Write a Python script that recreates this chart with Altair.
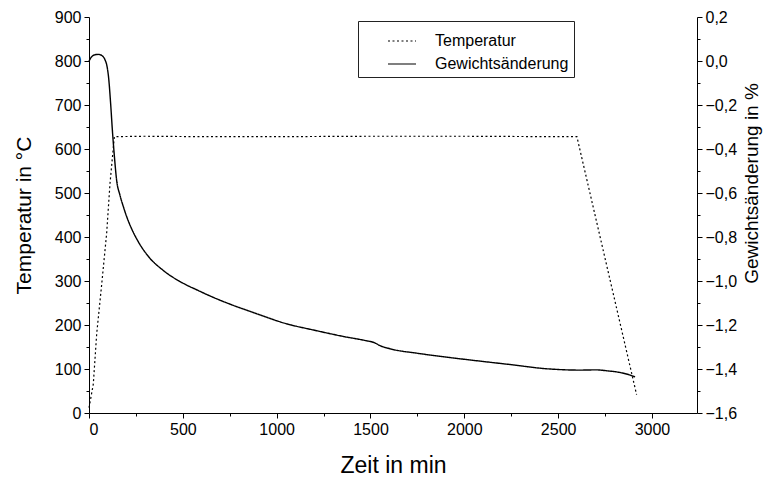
import altair as alt
import pandas as pd

# Temperature (left axis, °C)
temp_time = [0, 10, 23, 41, 68, 94, 112, 135, 300, 600, 1000, 1500, 2000, 2500, 2600, 2918]
temp_vals = [12, 35, 66, 180, 294, 408, 522, 628, 629, 628, 628, 629, 629, 628, 628, 42]

# Weight change (right axis, %)
w_time = [0, 15, 30, 50, 70, 85, 95, 105, 115, 125, 135, 147, 165, 183, 201, 230, 263, 320,
          396, 501, 574, 645, 760, 858, 911, 1035, 1213, 1355, 1480, 1520, 1551, 1604, 1746,
          1924, 2226, 2456, 2616, 2705, 2758, 2830, 2870, 2910]
w_vals = [0.000, 0.020, 0.028, 0.030, 0.024, 0.006, -0.020, -0.080, -0.190, -0.320, -0.430,
          -0.540, -0.610, -0.662, -0.708, -0.768, -0.822, -0.892, -0.952, -1.010, -1.040,
          -1.068, -1.108, -1.138, -1.154, -1.190, -1.226, -1.252, -1.272, -1.280, -1.294,
          -1.308, -1.328, -1.348, -1.378, -1.400, -1.405, -1.404, -1.408, -1.416, -1.424, -1.436]

series_names = ["Temperatur", "Gewichtsänderung"]

df_t = pd.DataFrame({"t": temp_time, "v": temp_vals, "series": series_names[0]})
df_w = pd.DataFrame({"t": w_time, "v": w_vals, "series": series_names[1]})

FONT = "Liberation Sans"

x_ticks = list(range(0, 3241, 250))
left_ticks = list(range(0, 901, 50))
right_ticks = [round(-1.6 + 0.1 * i, 1) for i in range(19)]


def dash_cond(test):
    return {"condition": {"test": test, "value": [6, 0]}, "value": [3, 20]}


x_enc = alt.X(
    "t:Q",
    scale=alt.Scale(domain=[0, 3240], nice=False, zero=False),
    axis=alt.Axis(
        title="Zeit in min", values=x_ticks, format="d", grid=False,
        labelExpr="datum.value % 500 === 0 ? datum.label : ''",
        tickSize=5, tickDash=dash_cond("datum.value % 500 === 0"),
        labelFontSize=16, titleFontSize=23, labelPadding=3, titlePadding=17,
    ),
)

dash_scale = alt.Scale(domain=series_names, range=[[2, 2.5], [1, 0]])
legend = alt.Legend(
    title=None, orient="none", legendX=269, legendY=4,
    symbolType="stroke", symbolSize=784, symbolStrokeWidth=1.2,
    symbolStrokeColor="black", symbolOffset=24,
    labelFontSize=16, labelFont=FONT, labelColor="black",
    strokeColor="#222", fillColor="white", padding=5, rowPadding=-6,
    labelOffset=18,
)

temp_chart = alt.Chart(df_t).mark_line(color="black", strokeWidth=1.2).encode(
    x=x_enc,
    y=alt.Y(
        "v:Q",
        scale=alt.Scale(domain=[0, 900], nice=False, zero=False),
        axis=alt.Axis(
            title="Temperatur in °C", orient="left", values=left_ticks, format="d",
            grid=False,
            labelExpr="datum.value % 100 === 0 ? datum.label : ''",
            tickSize=5, tickDash=dash_cond("datum.value % 100 === 0"),
            labelFontSize=16, titleFontSize=21, labelPadding=3, titlePadding=20,
        ),
    ),
    strokeDash=alt.StrokeDash("series:N", scale=dash_scale, legend=legend),
)

w_chart = alt.Chart(df_w).mark_line(color="black", strokeWidth=1.4, interpolate="monotone").encode(
    x=x_enc,
    y=alt.Y(
        "v:Q",
        scale=alt.Scale(domain=[-1.6, 0.2], nice=False, zero=False),
        axis=alt.Axis(
            title="Gewichtsänderung in %", orient="right", values=right_ticks, grid=False,
            labelExpr="abs(round(datum.value*10)) % 2 === 0 ? replace(format(datum.value, '.1f'), '.', ',') : ''",
            tickSize=5, tickDash=dash_cond("abs(round(datum.value*10)) % 2 === 0"),
            labelFontSize=16, titleFontSize=19, labelPadding=3, titlePadding=25,
            titleAngle=270, titleY=166,
        ),
    ),
    strokeDash=alt.StrokeDash("series:N", scale=dash_scale, legend=legend),
)

chart = (
    alt.layer(temp_chart, w_chart)
    .resolve_scale(y="independent")
    .properties(
        width=608, height=396,
        autosize=alt.AutoSizeParams(type="none"),
        padding={"left": 81, "top": 9, "right": 70, "bottom": 66},
    )
    .configure_view(stroke=None)
    .configure_axis(
        domainColor="black", tickColor="black", labelColor="black", titleColor="black",
        labelFont=FONT, titleFont=FONT, titleFontWeight="normal", domainWidth=1, tickWidth=1,
    )
)

chart.save("out.html", embed_options={"renderer": "svg", "actions": False})
